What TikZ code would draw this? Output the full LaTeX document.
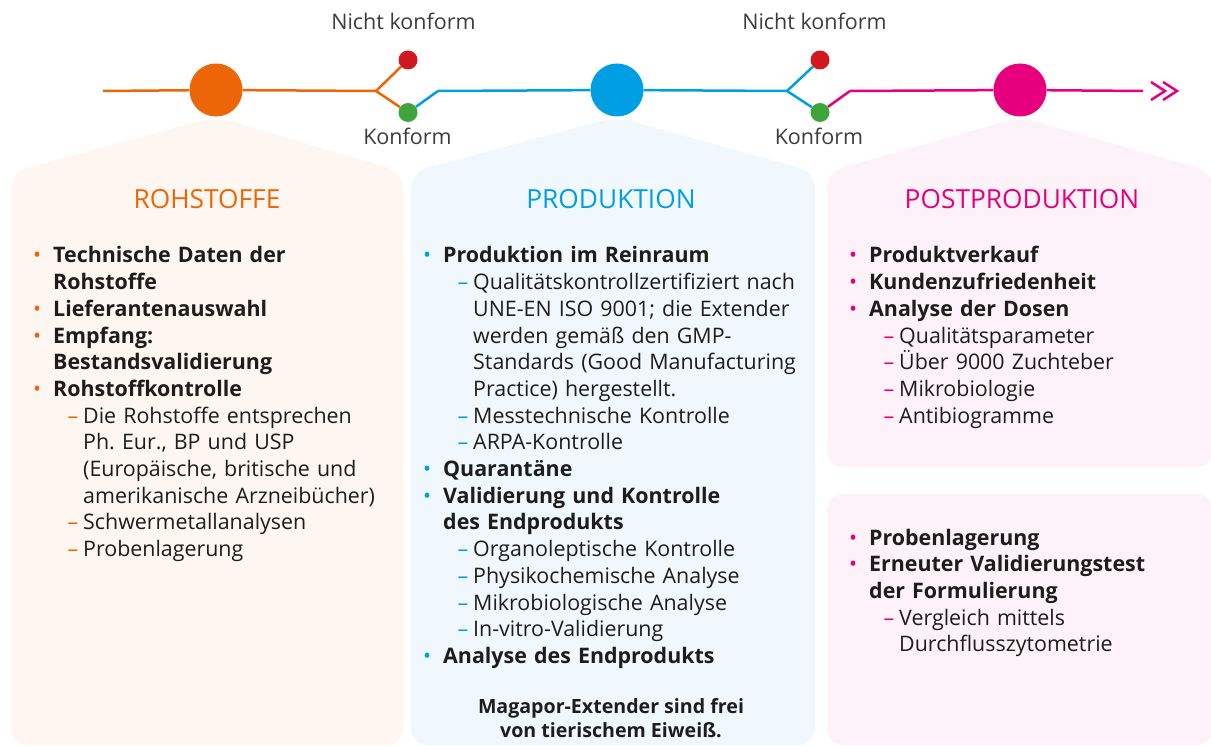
\documentclass[tikz,border=0pt]{standalone}
\usepackage{fontspec}
\setmainfont{Open Sans}
\usetikzlibrary{positioning}
\frenchspacing
\definecolor{rohCol}{HTML}{EC6608}
\definecolor{proCol}{HTML}{009FE3}
\definecolor{postCol}{HTML}{E6007E}
\definecolor{rohFill}{HTML}{FEF6F1}
\definecolor{proFill}{HTML}{F1F8FD}
\definecolor{postFill}{HTML}{FDF2F8}
\definecolor{badCol}{HTML}{D0191E}
\definecolor{okCol}{HTML}{3CA63A}
\definecolor{txtCol}{HTML}{1D1D1B}
\definecolor{lblCol}{HTML}{3C3C3B}
\tikzset{
 stage/.style={shape=circle, fill=#1, minimum size=53pt, inner sep=0pt},
 check/.style={shape=circle, fill=#1, minimum size=19pt, inner sep=0pt},
 track/.style={line width=2.5pt, draw=#1},
 lbl/.style={anchor=base, inner sep=0pt, text=lblCol, font=\fontsize{21.5}{24}\selectfont},
 ttl/.style={anchor=base, inner sep=0pt, text=#1, font=\fontsize{26.3}{30}\selectfont},
 listbox/.style={anchor=base west, inner sep=0pt, text width=400pt, text=txtCol,
   font=\fontsize{21.4}{26.7}\selectfont\frenchspacing}
}
% list lines
\newcommand{\pbul}[1]{\hangindent=0pt\noindent\llap{\textcolor{\pcol}{\textbullet}\hspace{12pt}}\textbf{#1}\par}
\newcommand{\psub}[1]{\hangindent=30pt\hangafter=1\noindent\hspace*{30pt}\llap{\textcolor{\pcol}{–}\hspace{5pt}}#1\par}

\begin{document}
\begin{tikzpicture}[x=1pt,y=-1pt]
\useasboundingbox (0,0) rectangle (1211,746);

% panels
\fill[rohFill, rounded corners=16pt] (11,745) -- (11,172) -- (216,117) -- (403,172) -- (403,745) -- cycle;
\fill[proFill, rounded corners=16pt] (411,745) -- (411,172) -- (616,117) -- (815,172) -- (815,745) -- cycle;
\fill[postFill, rounded corners=16pt] (827,467) -- (827,172) -- (1020,117) -- (1213,172) -- (1213,467) -- cycle;
\fill[postFill, rounded corners=16pt] (827,494) rectangle (1213,745);

% timeline
\path (216,90) node[name=rohDot, stage=rohCol] {};
\path (617,90) node[name=proDot, stage=proCol] {};
\path (1020,90) node[name=postDot, stage=postCol] {};
\path (408,60) node[name=badA, check=badCol] {};
\path (408,112.5) node[name=okA, check=okCol] {};
\path (820,60) node[name=badB, check=badCol] {};
\path (820,112.5) node[name=okB, check=okCol] {};
\coordinate (start) at (103,91);
\coordinate (forkA) at (376,91);
\coordinate (kinkA) at (438,91);
\coordinate (forkB) at (787,91);
\coordinate (kinkB) at (850,91);
\coordinate (stop) at (1143,91);

\path[track=rohCol] (start) edge (rohDot);
\path[track=rohCol] (rohDot) edge (forkA);
\path[track=rohCol] (forkA) edge (badA);
\path[track=rohCol] (forkA) edge (okA);
\path[track=proCol] (okA) edge (kinkA);
\path[track=proCol] (kinkA) edge (proDot);
\path[track=proCol] (proDot) edge (forkB);
\path[track=proCol] (forkB) edge (badB);
\path[track=proCol] (forkB) edge (okB);
\path[track=postCol] (okB) edge (kinkB);
\path[track=postCol] (kinkB) edge (postDot);
\path[track=postCol] (postDot) edge (stop);
\draw[track=postCol, line join=miter] (1151,82) -- (1165,91) -- (1151,100);
\draw[track=postCol, line join=miter] (1163,82) -- (1177,91) -- (1163,100);

\path (403.5,29.5) node[name=nokA, lbl] {Nicht konform};
\path (407.5,145) node[name=konA, lbl] {Konform};
\path (814.5,29.5) node[name=nokB, lbl] {Nicht konform};
\path (819,145) node[name=konB, lbl] {Konform};

% titles
\path (207,209) node[name=rohTtl, ttl=rohCol] {ROHSTOFFE};
\path (611,209) node[name=proTtl, ttl=proCol] {PRODUKTION};
\path (1022,209) node[name=postTtl, ttl=postCol] {POSTPRODUKTION};

% lists
\path (53,263) node[name=rohText, listbox] {\def\pcol{rohCol}%
\pbul{Technische Daten der\newline Rohstoffe}
\pbul{Lieferantenauswahl}
\pbul{Empfang:\newline Bestandsvalidierung}
\pbul{Rohstoffkontrolle}
\psub{Die Rohstoffe entsprechen\newline Ph. Eur., BP und USP\newline (Europäische, britische und\newline amerikanische Arzneibücher)}
\psub{Schwermetallanalysen}
\psub{Probenlagerung}};

\path (443,263) node[name=proText, listbox] {\def\pcol{proCol}%
\pbul{Produktion im Reinraum}
\psub{Qualitätskontrollzertifiziert nach\newline UNE-EN ISO 9001; die Extender\newline werden gemäß den GMP-\newline Standards (Good Manufacturing\newline Practice) hergestellt.}
\psub{Messtechnische Kontrolle}
\psub{ARPA-Kontrolle}
\pbul{Quarantäne}
\pbul{Validierung und Kontrolle\newline des Endprodukts}
\psub{Organoleptische Kontrolle}
\psub{Physikochemische Analyse}
\psub{Mikrobiologische Analyse}
\psub{In-vitro-Validierung}
\pbul{Analyse des Endprodukts}};

\path (869,263) node[name=postText, listbox] {\def\pcol{postCol}%
\pbul{Produktverkauf}
\pbul{Kundenzufriedenheit}
\pbul{Analyse der Dosen}
\psub{Qualitätsparameter}
\psub{Über 9000 Zuchteber}
\psub{Mikrobiologie}
\psub{Antibiogramme}};

\path (869,545) node[name=storeText, listbox] {\def\pcol{postCol}%
\pbul{Probenlagerung}
\pbul{Erneuter Validierungstest\newline der Formulierung}
\psub{Vergleich mittels\newline Durchflusszytometrie}};

\path (611,737) node[name=note, anchor=base, align=center, inner sep=0pt, text=txtCol,
  font=\bfseries\fontsize{19.6}{24}\selectfont] {Magapor-Extender sind frei\\von tierischem Eiweiß.};
\end{tikzpicture}
\end{document}
